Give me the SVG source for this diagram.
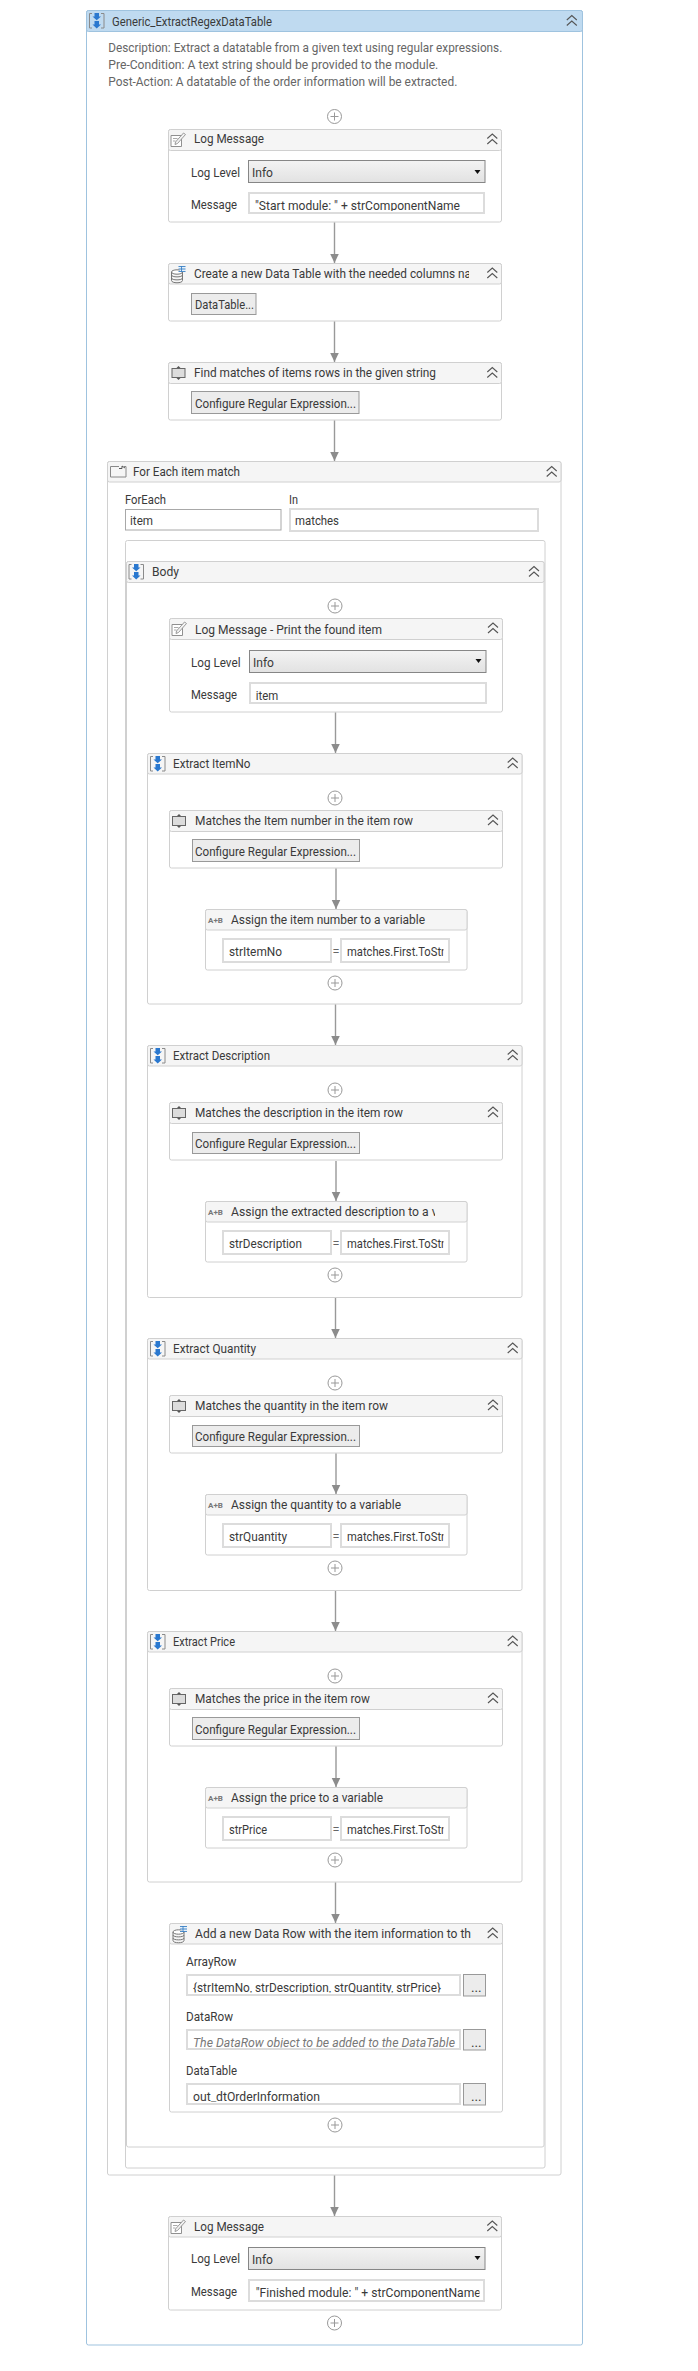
<svg xmlns="http://www.w3.org/2000/svg" width="698" height="2371" viewBox="0 0 698 2371">
<style>
text{font-family:Roboto,"Noto Sans","Liberation Sans",sans-serif;font-size:13.5px;fill:#3a3a3a}
.d{fill:#666}
.f{fill:#fff;stroke:#d0d0d0;stroke-width:1}
.h{fill:#f5f5f5;stroke:#d0d0d0;stroke-width:1}
.oh{fill:#bfdaf0;stroke:#9fc3df;stroke-width:1}
.of{fill:#fff;stroke:#9fc3df;stroke-width:1}
.c{fill:url(#cg);stroke:#868686;stroke-width:1}
.b{fill:#ececec;stroke:#999;stroke-width:1}
.i{fill:#fff;stroke:#dcdcdc;stroke-width:2}
.t{fill:#fff;stroke:#a8a8a8;stroke-width:1}
.l{fill:none;stroke:#999;stroke-width:1.4;marker-end:url(#ah)}
.p{fill:#787878;font-style:italic}
.ab{font-size:8px;font-weight:700;fill:#777}
</style>
<defs>
<linearGradient id="cg" x1="0" y1="0" x2="0" y2="1"><stop offset="0" stop-color="#f3f3f3"/><stop offset="1" stop-color="#e2e2e2"/></linearGradient>
<marker id="ah" markerUnits="userSpaceOnUse" markerWidth="10" markerHeight="10" refX="9.5" refY="5" orient="auto"><path d="M0 .5L9.5 5L0 9.5Z" fill="#8c8c8c"/></marker>
<g id="chev"><path d="M-5 -1L0 -5.500L5 -1M-5 4.500L0 0L5 4.500" fill="none" stroke="#555" stroke-width="1.100"/></g>
<g id="plus"><circle r="7" fill="#fff" stroke="#999" stroke-width="1"/><path d="M-4 0H4M0 -4V4" stroke="#999" stroke-width="1"/></g>
<g id="seq"><path d="M3 .5H.5V15H3M12 .5H15V15H12" fill="none" stroke="#8a8a8a" stroke-width="1"/><path d="M5.500 0H10V3.500H12L7.700 7.200L3.500 3.500H5.500Z" fill="#2a78cf"/><path d="M5.500 8H10V11.500H12L7.700 15.500L3.500 11.500H5.500Z" fill="#2a78cf"/></g>
<g id="log"><path d="M.5 3.500H11V14.500H.5Z" fill="#fff" stroke="#909090"/><path d="M5 10L13 1L15 2.500L7 11.500L4.500 12.500Z" fill="#f2f2f2" stroke="#909090" stroke-width=".9"/><path d="M2.500 6.500H7M2.500 9H5" stroke="#aaa"/></g>
<g id="db"><ellipse cx="6.500" cy="6" rx="5.500" ry="2.200" fill="#fff" stroke="#777"/><path d="M1 6V14.500C1 17.500 12 17.500 12 14.500V6M1 9C1 11.500 12 11.500 12 9M1 12C1 14.500 12 14.500 12 12" fill="none" stroke="#777"/><path d="M7.500 0H15V6H10" fill="#e4f0fa"/><path d="M8 .5H15M8 3H15M8 5.500H15M11 0V6" stroke="#3a80c4" stroke-width=".9"/></g>
<g id="rx"><rect x=".5" y="2.500" width="13" height="9" fill="#dcdcdc" stroke="#666"/><path d="M5 2L7 0L9 2M5 12L7 14L9 12" fill="#555"/></g>
<g id="fe"><path d="M9 .5H.5V11H16V.5H14" fill="none" stroke="#888"/><path d="M9 2.500H12V0L15 2" fill="none" stroke="#555"/></g>
<clipPath id="c1"><rect x="250" y="192" width="229.500" height="19"/></clipPath>
<clipPath id="c2"><rect x="192" y="262" width="277" height="22"/></clipPath>
<clipPath id="c4"><rect x="228" y="900" width="207" height="60"/></clipPath>
<clipPath id="c5"><rect x="191" y="1974" width="267" height="18.500"/></clipPath>
<clipPath id="c6"><rect x="191" y="2029" width="267" height="18.500"/></clipPath>
<clipPath id="c7"><rect x="191" y="2083" width="267" height="18.500"/></clipPath>
<clipPath id="c8"><rect x="250" y="2279" width="229.500" height="18.500"/></clipPath>
<clipPath id="c9"><rect x="342" y="900" width="101.500" height="100"/></clipPath>
</defs>

<g id="sequence-main">
<rect class="of" x="86.500" y="10.500" width="496" height="2334.500" rx="2"/>
<rect class="oh" x="86.500" y="10.500" width="496" height="21" rx="2"/>
<use href="#seq" x="89" y="13"/>
<text x="112" y="25.500" textLength="160" lengthAdjust="spacingAndGlyphs">Generic_ExtractRegexDataTable</text>
<use href="#chev" x="571.800" y="21"/>
<text class="d" x="108.300" y="51.500" textLength="394" lengthAdjust="spacingAndGlyphs">Description: Extract a datatable from a given text using regular expressions.</text>
<text class="d" x="108.300" y="68.500" textLength="330" lengthAdjust="spacingAndGlyphs">Pre-Condition: A text string should be provided to the module.</text>
<text class="d" x="108.300" y="85.500" textLength="349" lengthAdjust="spacingAndGlyphs">Post-Action: A datatable of the order information will be extracted.</text>
</g>

<g id="log-start">
<rect class="f" x="168.500" y="129.500" width="333" height="92.500" rx="2"/>
<rect class="h" x="168.500" y="129.500" width="333" height="21" rx="2"/>
<use href="#log" x="170.500" y="132"/>
<text x="194" y="143" textLength="70" lengthAdjust="spacingAndGlyphs">Log Message</text>
<use href="#chev" x="492.300" y="139.500"/>
<text x="191" y="177" textLength="49" lengthAdjust="spacingAndGlyphs">Log Level</text>
<rect class="c" x="248.500" y="160.500" width="236.500" height="22"/>
<text x="252" y="177" textLength="21" lengthAdjust="spacingAndGlyphs">Info</text>
<path d="M474.500 170H480.500L477.500 174Z" fill="#111"/>
<text x="191" y="209" textLength="46" lengthAdjust="spacingAndGlyphs">Message</text>
<rect class="i" x="249" y="193" width="235" height="20"/>
<text x="255" y="210" textLength="205" lengthAdjust="spacingAndGlyphs" clip-path="url(#c1)">"Start module: " + strComponentName</text>
</g>

<g id="build-data-table">
<rect class="f" x="168.500" y="263.500" width="333" height="57.500" rx="2"/>
<rect class="h" x="168.500" y="263.500" width="333" height="20.500" rx="2"/>
<use href="#db" x="170.500" y="266"/>
<text x="194" y="278" textLength="277" lengthAdjust="spacingAndGlyphs" clip-path="url(#c2)">Create a new Data Table with the needed columns na</text>
<use href="#chev" x="492.300" y="273.500"/>
<rect class="b" x="191.500" y="293.500" width="64.500" height="21"/>
<text x="195" y="309" textLength="59" lengthAdjust="spacingAndGlyphs">DataTable...</text>
</g>

<g id="find-matches">
<rect class="f" x="168.500" y="362.500" width="333" height="57.500" rx="2"/>
<rect class="h" x="168.500" y="362.500" width="333" height="21" rx="2"/>
<use href="#rx" x="171.500" y="366"/>
<text x="194" y="377" textLength="242" lengthAdjust="spacingAndGlyphs">Find matches of items rows in the given string</text>
<use href="#chev" x="492.300" y="373"/>
<rect class="b" x="191.500" y="391.500" width="167.500" height="22"/>
<text x="195" y="408" textLength="161" lengthAdjust="spacingAndGlyphs">Configure Regular Expression...</text>
</g>

<g id="for-each">
<rect class="f" x="107.500" y="461.500" width="453.500" height="1713.500" rx="2"/>
<rect class="h" x="107.500" y="461.500" width="453.500" height="20.500" rx="2"/>
<use href="#fe" x="110" y="466"/>
<text x="133" y="475.500" textLength="107" lengthAdjust="spacingAndGlyphs">For Each item match</text>
<use href="#chev" x="551.700" y="472"/>
<text x="125" y="503.500" textLength="41" lengthAdjust="spacingAndGlyphs">ForEach</text>
<text x="289" y="503.500" textLength="9" lengthAdjust="spacingAndGlyphs">In</text>
<rect class="t" x="125.500" y="509.500" width="155.500" height="20.500"/>
<text x="130" y="525" textLength="23" lengthAdjust="spacingAndGlyphs">item</text>
<rect class="i" x="290" y="509" width="248" height="22"/>
<text x="295" y="525" textLength="44" lengthAdjust="spacingAndGlyphs">matches</text>
<rect class="f" x="125.500" y="540.500" width="419.500" height="1627.500" rx="2"/>
</g>

<g id="body">
<rect class="f" x="126.500" y="561.500" width="417.500" height="1585.500" rx="2"/>
<rect class="h" x="126.500" y="561.500" width="417.500" height="21" rx="2"/>
<use href="#seq" x="128.500" y="564"/>
<text x="152" y="575.500" textLength="27" lengthAdjust="spacingAndGlyphs">Body</text>
<use href="#chev" x="534" y="572"/>
</g>

<g id="log-item">
<rect class="f" x="169.500" y="618.500" width="333" height="93.500" rx="2"/>
<rect class="h" x="169.500" y="618.500" width="333" height="21" rx="2"/>
<use href="#log" x="171.500" y="621"/>
<text x="195" y="633.500" textLength="187" lengthAdjust="spacingAndGlyphs">Log Message - Print the found item</text>
<use href="#chev" x="493" y="628.500"/>
<text x="191" y="666.500" textLength="49.500" lengthAdjust="spacingAndGlyphs">Log Level</text>
<rect class="c" x="249.500" y="650.500" width="236.500" height="22"/>
<text x="253" y="666.500" textLength="21" lengthAdjust="spacingAndGlyphs">Info</text>
<path d="M475.500 659H481.500L478.500 663Z" fill="#111"/>
<text x="191" y="698.500" textLength="46" lengthAdjust="spacingAndGlyphs">Message</text>
<rect class="i" x="250" y="683" width="236" height="20"/>
<text x="255.700" y="699.500" textLength="22.500" lengthAdjust="spacingAndGlyphs">item</text>
</g>

<g id="extract-item-no">
<rect class="f" x="147.500" y="753.500" width="374.500" height="250.500" rx="2"/>
<rect class="h" x="147.500" y="753.500" width="374.500" height="20.500" rx="2"/>
<use href="#seq" x="150" y="756"/>
<text x="173" y="767.500" textLength="77.500" lengthAdjust="spacingAndGlyphs">Extract ItemNo</text>
<use href="#chev" x="512.700" y="763.500"/>
<rect class="f" x="169.500" y="810.500" width="333" height="57.500" rx="2"/>
<rect class="h" x="169.500" y="810.500" width="333" height="21" rx="2"/>
<use href="#rx" x="172" y="814"/>
<text x="195" y="825" textLength="218" lengthAdjust="spacingAndGlyphs">Matches the Item number in the item row</text>
<use href="#chev" x="493" y="820.500"/>
<rect class="b" x="192.500" y="839.500" width="167" height="22"/>
<text x="195" y="856" textLength="161" lengthAdjust="spacingAndGlyphs">Configure Regular Expression...</text>
<rect class="f" x="205.500" y="909.500" width="261.500" height="60.500" rx="2"/>
<rect class="h" x="205.500" y="909.500" width="261.500" height="20.500" rx="2"/>
<text class="ab" x="208" y="923">A+B</text>
<text x="231" y="923.500" textLength="194" lengthAdjust="spacingAndGlyphs">Assign the item number to a variable</text>
<rect class="i" x="223" y="939" width="108" height="23"/>
<text x="229" y="956" textLength="53" lengthAdjust="spacingAndGlyphs">strItemNo</text>
<text x="332.500" y="956" textLength="7" lengthAdjust="spacingAndGlyphs" class="d">=</text>
<rect class="i" x="341" y="939" width="108" height="23"/>
<text x="347" y="956" textLength="113" lengthAdjust="spacingAndGlyphs" clip-path="url(#c9)">matches.First.ToString</text>
</g>

<g id="extract-description" transform="translate(0,292)">
<rect class="f" x="147.500" y="753.500" width="374.500" height="252" rx="2"/>
<rect class="h" x="147.500" y="753.500" width="374.500" height="20.500" rx="2"/>
<use href="#seq" x="150" y="756"/>
<text x="173" y="767.500" textLength="97" lengthAdjust="spacingAndGlyphs">Extract Description</text>
<use href="#chev" x="512.700" y="763.500"/>
<rect class="f" x="169.500" y="810.500" width="333" height="57.500" rx="2"/>
<rect class="h" x="169.500" y="810.500" width="333" height="21" rx="2"/>
<use href="#rx" x="172" y="814"/>
<text x="195" y="825" textLength="208" lengthAdjust="spacingAndGlyphs">Matches the description in the item row</text>
<use href="#chev" x="493" y="820.500"/>
<rect class="b" x="192.500" y="840.500" width="167" height="21"/>
<text x="195" y="856" textLength="161" lengthAdjust="spacingAndGlyphs">Configure Regular Expression...</text>
<rect class="f" x="205.500" y="909.500" width="261.500" height="60.500" rx="2"/>
<rect class="h" x="205.500" y="909.500" width="261.500" height="20.500" rx="2"/>
<text class="ab" x="208" y="923">A+B</text>
<text x="231" y="923.500" textLength="243" lengthAdjust="spacingAndGlyphs" clip-path="url(#c4)">Assign the extracted description to a variable</text>
<rect class="i" x="223" y="939" width="108" height="23"/>
<text x="229" y="956" textLength="73" lengthAdjust="spacingAndGlyphs">strDescription</text>
<text x="332.500" y="956" textLength="7" lengthAdjust="spacingAndGlyphs" class="d">=</text>
<rect class="i" x="341" y="939" width="108" height="23"/>
<text x="347" y="956" textLength="113" lengthAdjust="spacingAndGlyphs" clip-path="url(#c9)">matches.First.ToString</text>
</g>

<g id="extract-quantity" transform="translate(0,585)">
<rect class="f" x="147.500" y="753.500" width="374.500" height="252" rx="2"/>
<rect class="h" x="147.500" y="753.500" width="374.500" height="20.500" rx="2"/>
<use href="#seq" x="150" y="756"/>
<text x="173" y="767.500" textLength="83" lengthAdjust="spacingAndGlyphs">Extract Quantity</text>
<use href="#chev" x="512.700" y="763.500"/>
<rect class="f" x="169.500" y="810.500" width="333" height="57.500" rx="2"/>
<rect class="h" x="169.500" y="810.500" width="333" height="21" rx="2"/>
<use href="#rx" x="172" y="814"/>
<text x="195" y="825" textLength="193" lengthAdjust="spacingAndGlyphs">Matches the quantity in the item row</text>
<use href="#chev" x="493" y="820.500"/>
<rect class="b" x="192.500" y="840.500" width="167" height="21"/>
<text x="195" y="856" textLength="161" lengthAdjust="spacingAndGlyphs">Configure Regular Expression...</text>
<rect class="f" x="205.500" y="909.500" width="261.500" height="60.500" rx="2"/>
<rect class="h" x="205.500" y="909.500" width="261.500" height="20.500" rx="2"/>
<text class="ab" x="208" y="923">A+B</text>
<text x="231" y="923.500" textLength="170" lengthAdjust="spacingAndGlyphs">Assign the quantity to a variable</text>
<rect class="i" x="223" y="939" width="108" height="23"/>
<text x="229" y="956" textLength="58" lengthAdjust="spacingAndGlyphs">strQuantity</text>
<text x="332.500" y="956" textLength="7" lengthAdjust="spacingAndGlyphs" class="d">=</text>
<rect class="i" x="341" y="939" width="108" height="23"/>
<text x="347" y="956" textLength="113" lengthAdjust="spacingAndGlyphs" clip-path="url(#c9)">matches.First.ToString</text>
</g>

<g id="extract-price" transform="translate(0,878)">
<rect class="f" x="147.500" y="753.500" width="374.500" height="250.500" rx="2"/>
<rect class="h" x="147.500" y="753.500" width="374.500" height="20.500" rx="2"/>
<use href="#seq" x="150" y="756"/>
<text x="173" y="767.500" textLength="62" lengthAdjust="spacingAndGlyphs">Extract Price</text>
<use href="#chev" x="512.700" y="763.500"/>
<rect class="f" x="169.500" y="810.500" width="333" height="57.500" rx="2"/>
<rect class="h" x="169.500" y="810.500" width="333" height="21" rx="2"/>
<use href="#rx" x="172" y="814"/>
<text x="195" y="825" textLength="175" lengthAdjust="spacingAndGlyphs">Matches the price in the item row</text>
<use href="#chev" x="493" y="820.500"/>
<rect class="b" x="192.500" y="839.500" width="167" height="22"/>
<text x="195" y="856" textLength="161" lengthAdjust="spacingAndGlyphs">Configure Regular Expression...</text>
<rect class="f" x="205.500" y="909.500" width="261.500" height="60.500" rx="2"/>
<rect class="h" x="205.500" y="909.500" width="261.500" height="20.500" rx="2"/>
<text class="ab" x="208" y="923">A+B</text>
<text x="231" y="923.500" textLength="152" lengthAdjust="spacingAndGlyphs">Assign the price to a variable</text>
<rect class="i" x="223" y="939" width="108" height="23"/>
<text x="229" y="956" textLength="38" lengthAdjust="spacingAndGlyphs">strPrice</text>
<text x="332.500" y="956" textLength="7" lengthAdjust="spacingAndGlyphs" class="d">=</text>
<rect class="i" x="341" y="939" width="108" height="23"/>
<text x="347" y="956" textLength="113" lengthAdjust="spacingAndGlyphs" clip-path="url(#c9)">matches.First.ToString</text>
</g>

<g id="add-data-row">
<rect class="f" x="169.500" y="1923.500" width="333" height="188.500" rx="2"/>
<rect class="h" x="169.500" y="1923.500" width="333" height="20.500" rx="2"/>
<use href="#db" x="172" y="1926"/>
<text x="195" y="1938" textLength="276" lengthAdjust="spacingAndGlyphs">Add a new Data Row with the item information to th</text>
<use href="#chev" x="492.700" y="1933.500"/>
<text x="186" y="1966" textLength="50.500" lengthAdjust="spacingAndGlyphs">ArrayRow</text>
<rect class="i" x="187" y="1975" width="273" height="20"/>
<text x="193" y="1992" textLength="248" lengthAdjust="spacingAndGlyphs" clip-path="url(#c5)">{strItemNo, strDescription, strQuantity, strPrice}</text>
<rect class="b" x="463.500" y="1974.500" width="22" height="21.500"/>
<text x="471" y="1992">...</text>
<text x="186" y="2021" textLength="47" lengthAdjust="spacingAndGlyphs">DataRow</text>
<rect class="i" x="187" y="2030" width="273" height="19"/>
<text class="p" x="193" y="2047" textLength="262" lengthAdjust="spacingAndGlyphs" clip-path="url(#c6)">The DataRow object to be added to the DataTable</text>
<rect class="b" x="463.500" y="2029.500" width="22" height="20.500"/>
<text x="471" y="2047">...</text>
<text x="186" y="2075" textLength="51" lengthAdjust="spacingAndGlyphs">DataTable</text>
<rect class="i" x="187" y="2084" width="273" height="20"/>
<text x="193" y="2101" textLength="127" lengthAdjust="spacingAndGlyphs" clip-path="url(#c7)">out_dtOrderInformation</text>
<rect class="b" x="463.500" y="2083.500" width="22" height="21.500"/>
<text x="471" y="2101">...</text>
</g>

<g id="log-finish">
<rect class="f" x="168.500" y="2216.500" width="333" height="93.500" rx="2"/>
<rect class="h" x="168.500" y="2216.500" width="333" height="20.500" rx="2"/>
<use href="#log" x="170.500" y="2219"/>
<text x="194" y="2231" textLength="70" lengthAdjust="spacingAndGlyphs">Log Message</text>
<use href="#chev" x="492.300" y="2226.500"/>
<text x="191" y="2263" textLength="49" lengthAdjust="spacingAndGlyphs">Log Level</text>
<rect class="c" x="248.500" y="2247.500" width="236.500" height="22"/>
<text x="252" y="2263.500" textLength="21" lengthAdjust="spacingAndGlyphs">Info</text>
<path d="M474.500 2256H480.500L477.500 2260Z" fill="#111"/>
<text x="191" y="2296" textLength="46" lengthAdjust="spacingAndGlyphs">Message</text>
<rect class="i" x="249" y="2280" width="235" height="21"/>
<text x="255.700" y="2297" textLength="225" lengthAdjust="spacingAndGlyphs" clip-path="url(#c8)">"Finished module: " + strComponentName</text>
</g>

<g id="add-points">
<use href="#plus" x="334.500" y="116.500"/>
<use href="#plus" x="335" y="606"/>
<use href="#plus" x="335" y="798"/>
<use href="#plus" x="335" y="983"/>
<use href="#plus" x="335" y="1090"/>
<use href="#plus" x="335" y="1275"/>
<use href="#plus" x="335" y="1383"/>
<use href="#plus" x="335" y="1568"/>
<use href="#plus" x="335" y="1676"/>
<use href="#plus" x="335" y="1860"/>
<use href="#plus" x="335" y="2125"/>
<use href="#plus" x="334.500" y="2323"/>
</g>

<g id="connectors">
<path class="l" d="M334.500 222.500V263"/>
<path class="l" d="M334.500 321.500V362"/>
<path class="l" d="M334.500 420.500V461"/>
<path class="l" d="M335.500 712.500V753"/>
<path class="l" d="M336 868.500V909"/>
<path class="l" d="M335.500 1004.500V1045"/>
<path class="l" d="M336 1161V1201"/>
<path class="l" d="M335.500 1298V1338"/>
<path class="l" d="M336 1453.500V1494"/>
<path class="l" d="M335.500 1591V1631"/>
<path class="l" d="M336 1746.500V1787"/>
<path class="l" d="M335.500 1882.500V1923"/>
<path class="l" d="M334.500 2175.500V2216"/>
</g>
</svg>
